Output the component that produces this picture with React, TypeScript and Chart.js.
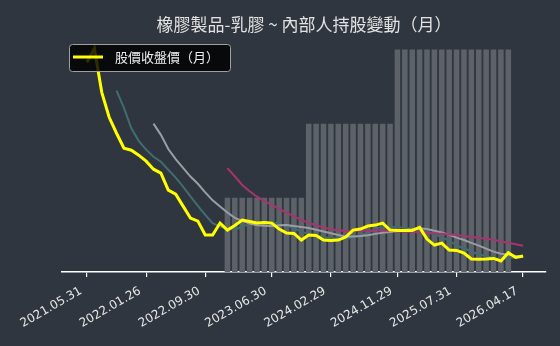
import { useEffect, useRef } from 'react';
import { Chart, registerables } from 'chart.js';

Chart.register(...registerables);

const titleText = '橡膠製品-乳膠 ~ 內部人持股變動（月）';
const priceLabel = '股價收盤價（月）';

const dates = [
  '2021.05.31', '2021.06.30', '2021.07.30', '2021.08.31', '2021.09.30', '2021.10.29', '2021.11.30', '2021.12.30',
  '2022.01.26', '2022.02.25', '2022.03.31', '2022.04.29', '2022.05.31', '2022.06.30', '2022.07.29', '2022.08.31',
  '2022.09.30', '2022.10.31', '2022.11.30', '2022.12.30', '2023.01.17', '2023.02.24', '2023.03.31', '2023.04.28',
  '2023.05.31', '2023.06.30', '2023.07.31', '2023.08.31', '2023.09.28', '2023.10.31', '2023.11.30', '2023.12.29',
  '2024.01.31', '2024.02.29', '2024.03.29', '2024.04.30', '2024.05.31', '2024.06.28', '2024.07.31', '2024.08.30',
  '2024.09.30', '2024.10.30', '2024.11.29', '2024.12.31', '2025.01.22', '2025.02.27', '2025.03.31', '2025.04.30',
  '2025.05.29', '2025.06.30', '2025.07.31', '2025.08.29', '2025.09.30', '2025.10.31', '2025.11.28', '2025.12.31',
  '2026.01.30', '2026.02.26', '2026.03.31', '2026.04.17',
];

const tickLabels = [
  '2021.05.31', '2022.01.26', '2022.09.30', '2023.06.30',
  '2024.02.29', '2024.11.29', '2025.07.31', '2026.04.17',
];

const closePrice = [
  119, 126, 104, 91.5, 83.5, 76, 75, 72.5, 69.5, 65.5,
  63.5, 55, 53, 47, 41, 39.5, 32.5, 32.5, 38.5, 35,
  37.3, 40, 39.3, 38.5, 38.8, 38.5, 35.5, 33.5, 33.3, 30,
  32.5, 32.3, 30, 29.8, 30, 31.5, 35, 35.5, 37, 37.5,
  38.5, 35, 34.8, 34.8, 34.8, 36.3, 30.5, 27.5, 28.5, 25,
  24.8, 23.5, 20.5, 20.4, 20.5, 20.8, 19.5, 23.7, 21.3, 22,
];

const ma5 = [
  null, null, null, null,
  104.8, 96.2, 86, 79.7, 75.3, 71.7, 69.2, 65.2, 61.3, 56.8,
  51.9, 47.1, 42.6, 38.5, 36.8, 35.6, 35.2, 36.7, 38, 38,
  38.8, 39, 38.1, 37, 35.9, 34.2, 33, 32.3, 31.6, 30.9,
  30.9, 30.7, 31.3, 32.4, 33.8, 35.3, 36.7, 36.7, 36.6, 36.1,
  35.6, 35.1, 34.2, 32.8, 31.5, 29.6, 27.3, 25.9, 24.4, 22.8,
  21.9, 21.1, 20.3, 21, 21.2, 21.5,
];

const ma10 = [
  null, null, null, null, null, null, null, null, null,
  88.3, 82.7, 75.6, 70.5, 66.1, 61.8, 58.2, 53.9, 49.9, 46.8,
  43.8, 41.1, 39.6, 38.3, 37.4, 37.2, 37.1, 37.4, 37.5, 37,
  36.5, 36, 35.2, 34.3, 33.4, 32.5, 31.8, 31.8, 32, 32.4,
  33.1, 33.7, 34, 34.5, 35, 35.4, 35.9, 35.5, 34.7, 33.8,
  32.6, 31.2, 30, 28.6, 27.2, 25.7, 24.2, 23.1, 22.7, 22,
  21.7,
];

const ma20 = [
  null, null, null, null, null, null, null, null, null, null,
  null, null, null, null, null, null, null, null, null,
  66, 61.9, 57.6, 54.4, 51.7, 49.5, 47.6, 45.7, 43.7, 41.9,
  40.1, 38.6, 37.4, 36.3, 35.4, 34.9, 34.5, 34.6, 34.7, 34.7,
  34.8, 34.9, 34.6, 34.4, 34.2, 34, 33.9, 33.6, 33.3, 33.1,
  32.8, 32.5, 32, 31.5, 31.1, 30.6, 30.1, 29.3, 28.7, 27.9,
  27.1,
];

const insiderHolding = [
  null, null, null, null, null, null, null, null, null, null,
  null, null, null, null, null, null, null, null, null,
  1000, 1000, 1000, 1000, 1000, 1000, 1000, 1000, 1000, 1000, 1000,
  2000, 2000, 2000, 2000, 2000, 2000, 2000, 2000, 2000, 2000, 2000, 2000,
  3000, 3000, 3000, 3000, 3000, 3000, 3000, 3000, 3000, 3000, 3000, 3000, 3000, 3000, 3000, 3000,
  null, null,
];

const toXY = (arr: (number | null)[]) =>
  arr
    .map((v, i) => (v == null ? null : { x: i, y: v }))
    .filter((p) => p !== null) as { x: number; y: number }[];

export default function App() {
  const ref = useRef<HTMLCanvasElement>(null);

  useEffect(() => {
    const tickIdx = tickLabels.map((t) => dates.indexOf(t));

    const legendBox = {
      id: 'legendBox',
      afterDraw(chart: any) {
        const ctx = chart.ctx as CanvasRenderingContext2D;
        ctx.save();
        const x = 69.5, y = 44.5, w = 161, h = 27, r = 3;
        ctx.beginPath();
        ctx.moveTo(x + r, y);
        ctx.lineTo(x + w - r, y);
        ctx.arcTo(x + w, y, x + w, y + r, r);
        ctx.lineTo(x + w, y + h - r);
        ctx.arcTo(x + w, y + h, x + w - r, y + h, r);
        ctx.lineTo(x + r, y + h);
        ctx.arcTo(x, y + h, x, y + h - r, r);
        ctx.lineTo(x, y + r);
        ctx.arcTo(x, y, x + r, y, r);
        ctx.closePath();
        ctx.fillStyle = 'rgba(0,0,0,0.82)';
        ctx.fill();
        ctx.strokeStyle = '#a0a0a0';
        ctx.lineWidth = 1;
        ctx.stroke();
        const ds = chart.data.datasets[0];
        ctx.strokeStyle = ds.borderColor;
        ctx.lineWidth = 3;
        ctx.beginPath();
        ctx.moveTo(73, 57);
        ctx.lineTo(103, 57);
        ctx.stroke();
        ctx.fillStyle = '#ececec';
        ctx.font = '13px "Noto Sans CJK TC"';
        ctx.textBaseline = 'middle';
        ctx.textAlign = 'left';
        ctx.fillText(ds.label, 115, 57.5);
        ctx.restore();
      },
    };

    const chart = new Chart(ref.current as HTMLCanvasElement, {
      type: 'line',
      data: {
        datasets: [
          {
            type: 'line',
            label: priceLabel,
            data: toXY(closePrice),
            borderColor: '#ffff00',
            borderWidth: 3,
            pointRadius: 0,
            tension: 0,
            yAxisID: 'yPrice',
            order: 0,
          },
          {
            type: 'line',
            label: 'MA5',
            data: toXY(ma5),
            borderColor: '#3f6d70',
            borderWidth: 2,
            pointRadius: 0,
            yAxisID: 'yPrice',
            order: 3,
          },
          {
            type: 'line',
            label: 'MA10',
            data: toXY(ma10),
            borderColor: '#9a9ea4',
            borderWidth: 2,
            pointRadius: 0,
            yAxisID: 'yPrice',
            order: 2,
          },
          {
            type: 'line',
            label: 'MA20',
            data: toXY(ma20),
            borderColor: '#a8346f',
            borderWidth: 2,
            pointRadius: 0,
            yAxisID: 'yPrice',
            order: 1,
          },
          {
            type: 'bar',
            label: '內部人持股',
            data: toXY(insiderHolding),
            backgroundColor: '#5d6269',
            borderWidth: 0,
            barPercentage: 0.75,
            categoryPercentage: 1,
            yAxisID: 'yBar',
            order: 10,
          },
        ],
      } as any,
      options: {
        responsive: false,
        animation: false,
        layout: { padding: { left: 62, right: 14, top: 0, bottom: 0 } },
        plugins: {
          legend: { display: false },
          tooltip: { enabled: false },
          title: {
            display: true,
            text: titleText,
            color: '#e2e2e2',
            font: { family: '"Noto Sans CJK TC"', size: 17, weight: 'normal', lineHeight: 1.2 },
            padding: { top: 14, bottom: 4 },
          },
        },
        scales: {
          x: {
            type: 'linear',
            offset: false,
            min: -3.38,
            max: 62.1,
            afterBuildTicks: (s: any) => {
              s.ticks = tickIdx.map((v) => ({ value: v }));
            },
            afterFit: (s: any) => {
              s.height = 74;
            },
            ticks: {
              callback: (v: any) => dates[v as number],
              autoSkip: false,
              minRotation: 30,
              maxRotation: 30,
              color: '#e6e6e6',
              font: { family: '"DejaVu Sans"', size: 12 },
              padding: 7,
              labelOffset: -6,
            },
            grid: {
              offset: false,
              drawOnChartArea: false,
              color: '#ffffff',
              tickLength: 5,
              lineWidth: 1.2,
            },
            border: { color: '#ffffff', width: 1.5 },
          },
          yPrice: { display: false, min: 14, max: 131 },
          yBar: { display: false, min: 0, max: 3150 },
        },
      } as any,
      plugins: [legendBox],
    });
    return () => chart.destroy();
  }, []);

  return (
    <div
      style={{
        position: 'fixed',
        left: 0,
        top: 0,
        width: 560,
        height: 346,
        background: '#30363f',
      }}
    >
      <canvas ref={ref} width={560} height={346} style={{ display: 'block' }} />
    </div>
  );
}
